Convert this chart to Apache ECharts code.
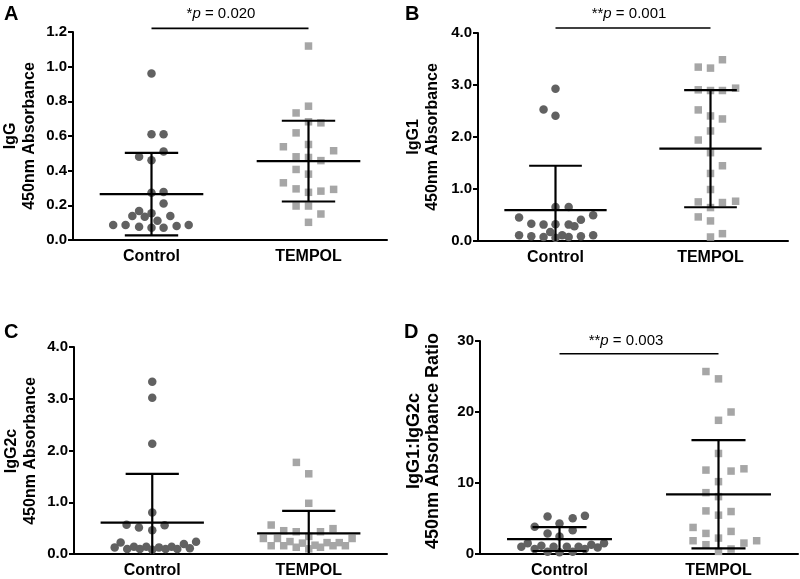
<!DOCTYPE html>
<html><head><meta charset="utf-8">
<script src="https://cdn.jsdelivr.net/npm/echarts@6/dist/echarts.min.js"></script>
<style>html,body{margin:0;padding:0;background:#fff}#c{width:800px;height:579px}</style>
</head><body><div id="c"></div>
<script>
const categories = ['Control', 'TEMPOL'];

// Panel A: IgG
const igGControl = [0.96,0.61,0.61,0.48,0.46,0.51,0.273,0.277,0.211,0.167,0.138,0.134,0.154,0.138,0.111,0.086,0.086,0.077,0.071,0.071,0.081,0.086];
const igGControlJitter = [0,0,0.077,-0.079,0,0.077,0,0.077,0.077,-0.079,-0.122,-0.043,0,0.12,0.038,-0.244,-0.165,-0.079,0,0.077,0.16,0.237];
const igGTempol = [1.119,0.772,0.733,0.682,0.676,0.618,0.538,0.551,0.515,0.48,0.476,0.458,0.407,0.38,0.33,0.295,0.275,0.282,0.292,0.196,0.196,0.15,0.102];
const igGTempolJitter = [0,0,-0.079,0,0.079,-0.079,-0.16,0,0.16,-0.079,0,0.079,-0.079,0,-0.16,-0.079,0,0.079,0.16,-0.079,0,0.079,0];
const igGMean = [0.265, 0.455];
const igGSD = [0.238, 0.233];

// Panel B: IgG1
const igG1Control = [2.93,2.53,2.41,0.656,0.656,0.45,0.334,0.315,0.32,0.315,0.283,0.41,0.495,0.109,0.09,0.077,0.174,0.064,0.109,0.077,0.09,0.109];
const igG1ControlJitter = [0,-0.077,0,0,0.085,-0.235,-0.156,-0.077,0,0.085,0.122,0.164,0.243,-0.235,-0.156,-0.077,-0.034,0,0.043,0.085,0.164,0.243];
const igG1Tempol = [3.486,3.344,3.325,2.907,2.894,2.894,2.939,2.521,2.405,2.347,2.116,1.942,1.698,1.447,1.299,0.99,0.752,0.74,0.765,0.643,0.463,0.386,0.141,0.077];
const igG1TempolJitter = [0.077,-0.079,0,-0.079,0,0.077,0.162,-0.079,0,0.077,0,-0.079,0,0.077,0,0,-0.079,0.077,0.162,0,-0.079,0,0.077,0];
const igG1Mean = [0.592, 1.775];
const igG1SD = [0.855, 1.126];

// Panel C: IgG2c
const igG2cControl = [3.328,3.02,2.131,0.8,0.563,0.512,0.461,0.557,0.128,0.224,0.096,0.141,0.096,0.141,0.083,0.128,0.096,0.141,0.096,0.192,0.109,0.237];
const igG2cControlJitter = [0,0,0,0,-0.164,-0.085,0,0.079,-0.24,-0.202,-0.16,-0.117,-0.079,-0.038,0,0.043,0.085,0.124,0.16,0.202,0.24,0.28];
const igG2cTempol = [1.77,1.55,0.98,0.56,0.45,0.43,0.43,0.49,0.34,0.30,0.30,0.16,0.16,0.24,0.13,0.21,0.10,0.17,0.13,0.22,0.16,0.22,0.16,0.30];
const igG2cTempolJitter = [-0.079,0,0,-0.24,-0.16,-0.08,0.075,0.155,0,-0.29,-0.2,-0.24,-0.16,-0.12,-0.08,-0.04,0,0.04,0.075,0.117,0.155,0.195,0.234,0.277];
const igG2cMean = [0.608, 0.397];
const igG2cSD = [0.941, 0.435];

// Panel D: IgG1:IgG2c ratio
const ratioControl = [5.28,4.3,5.05,5.37,3.83,2.9,2.48,3.36,1.03,1.5,0.7,1.17,0.33,1.03,0.23,1.03,0.33,1.03,0.7,1.31,0.93,1.5];
const ratioControlJitter = [-0.075,0,0.083,0.16,-0.156,-0.075,0,0.083,-0.24,-0.2,-0.156,-0.114,-0.075,-0.037,0,0.046,0.083,0.12,0.16,0.2,0.24,0.28];
const ratioTempol = [25.7,24.67,20.0,18.83,14.16,11.82,11.68,12.0,10.19,8.64,8.08,6.07,5.98,5.47,3.74,2.9,3.18,2.24,1.87,1.31,1.54,1.87,0.37,0.7];
const ratioTempolJitter = [-0.079,0,0.079,0,0,-0.079,0.079,0.16,0,-0.079,0,-0.079,0.079,0,-0.16,-0.079,0.079,0,-0.16,-0.079,0.16,0.24,0,0.079];
const ratioMean = [2.1, 8.41];
const ratioSD = [1.68, 7.62];

// y-axis tick settings and significance brackets
const yMax = [1.2, 4, 4, 30];
const yInterval = [0.2, 1, 1, 10];
const yDecimals = [1, 1, 1, 0];
const yNames = ['IgG\n450nm Absorbance', 'IgG1\n450nm Absorbance', 'IgG2c\n450nm Absorbance', 'IgG1:IgG2c\n450nm Absorbance Ratio'];
const bracketY = [1.221, 4.096, null, 28.2];
const pTexts = [['*', ' = 0.020'], ['**', ' = 0.001'], null, ['**', ' = 0.003']];
const panelLetters = ['A', 'B', 'C', 'D'];

const panels = [
  {ctrl: igGControl, ctrlJ: igGControlJitter, tem: igGTempol, temJ: igGTempolJitter, mean: igGMean, sd: igGSD},
  {ctrl: igG1Control, ctrlJ: igG1ControlJitter, tem: igG1Tempol, temJ: igG1TempolJitter, mean: igG1Mean, sd: igG1SD},
  {ctrl: igG2cControl, ctrlJ: igG2cControlJitter, tem: igG2cTempol, temJ: igG2cTempolJitter, mean: igG2cMean, sd: igG2cSD},
  {ctrl: ratioControl, ctrlJ: ratioControlJitter, tem: ratioTempol, temJ: ratioTempolJitter, mean: ratioMean, sd: ratioSD}
];

const grids = [
  {left: 73, top: 32, width: 314, height: 208},
  {left: 478, top: 33, width: 310, height: 208},
  {left: 74, top: 347, width: 313, height: 208},
  {left: 480, top: 341, width: 318, height: 214}
];
const nameFont = [16, 16, 16, 18];
const namePos = [[20, 136], [423, 137], [21, 451], [424, 441]];
const letterPos = [[4, 4], [405, 4], [4, 322], [404, 322]];
const pTextPos = [[221, 14], [629, 14], null, [626, 341]];

const FONT = '"Liberation Sans", Arial, sans-serif';
const CIRCLE_COLOR = '#616161';
const SQUARE_COLOR = '#a6a6a6';

function renderErr(params, api) {
  const x = api.value(0), m = api.value(1), s = api.value(2);
  const c = api.coord([x, m]);
  const hiV = m + s, loV = m - s;
  const pHi = api.coord([x, hiV]);
  const pLo = api.coord([x, Math.max(loV, 0)]);
  const half = api.size([0.33, 0])[0];
  const capHalf = api.size([0.17, 0])[0];
  const style = {stroke: '#000', lineWidth: 2.2};
  const children = [
    {type: 'line', shape: {x1: c[0] - half, y1: c[1], x2: c[0] + half, y2: c[1]}, style},
    {type: 'line', shape: {x1: c[0], y1: pLo[1], x2: c[0], y2: pHi[1]}, style},
    {type: 'line', shape: {x1: c[0] - capHalf, y1: pHi[1], x2: c[0] + capHalf, y2: pHi[1]}, style}
  ];
  if (loV > 0) {
    children.push({type: 'line', shape: {x1: c[0] - capHalf, y1: pLo[1], x2: c[0] + capHalf, y2: pLo[1]}, style});
  }
  return {type: 'group', children};
}

const option = {
  backgroundColor: '#fff',
  animation: false,
  grid: grids.map(g => Object.assign({containLabel: false}, g)),
  xAxis: [],
  yAxis: [],
  series: [],
  graphic: []
};

panels.forEach((p, i) => {
  // visible category axis
  option.xAxis.push({
    type: 'category', gridIndex: i, data: categories, boundaryGap: true,
    axisLine: {onZero: false, lineStyle: {color: '#000', width: 2}},
    axisTick: {alignWithLabel: true, length: 5, lineStyle: {color: '#000', width: 2}},
    axisLabel: {color: '#000', fontWeight: 'bold', fontSize: 16, fontFamily: FONT, margin: 9},
    splitLine: {show: false}
  });
  // hidden value axis for jittered points
  option.xAxis.push({type: 'value', gridIndex: i, min: -0.5, max: 1.5, show: false});
  option.yAxis.push({
    type: 'value', gridIndex: i, min: 0, max: yMax[i], interval: yInterval[i],
    axisLine: {show: true, onZero: false, lineStyle: {color: '#000', width: 2}},
    axisTick: {show: true, length: 5, lineStyle: {color: '#000', width: 2}},
    axisLabel: {color: '#000', fontWeight: 'bold', fontSize: 15, fontFamily: FONT, margin: 6,
      formatter: v => v.toFixed(yDecimals[i])},
    splitLine: {show: false}
  });
  // y-axis title (two centred lines, rotated)
  option.graphic.push({
    type: 'text', x: namePos[i][0], y: namePos[i][1], rotation: Math.PI / 2,
    style: {text: yNames[i], align: 'center', verticalAlign: 'middle', fontSize: nameFont[i],
      fontWeight: 'bold', fontFamily: FONT, fill: '#000', lineHeight: 19}
  });
  const vx = i * 2 + 1;
  option.series.push({
    type: 'scatter', xAxisIndex: vx, yAxisIndex: i, symbol: 'circle', symbolSize: 8.5,
    itemStyle: {color: CIRCLE_COLOR, opacity: 1},
    data: p.ctrl.map((v, k) => [0 + p.ctrlJ[k], v]), z: 2
  });
  option.series.push({
    type: 'scatter', xAxisIndex: vx, yAxisIndex: i, symbol: 'rect', symbolSize: 7.5,
    itemStyle: {color: SQUARE_COLOR, opacity: 1},
    data: p.tem.map((v, k) => [1 + p.temJ[k], v]), z: 2
  });
  option.series.push({
    type: 'custom', xAxisIndex: vx, yAxisIndex: i, renderItem: renderErr, z: 5, clip: false,
    data: p.mean.map((m, k) => [k, m, p.sd[k]])
  });
  if (bracketY[i] !== null) {
    option.series.push({
      type: 'line', xAxisIndex: vx, yAxisIndex: i, clip: false, symbol: 'none', z: 5,
      lineStyle: {color: '#000', width: 1.6},
      data: [[0, bracketY[i]], [1, bracketY[i]]]
    });
    option.graphic.push({
      type: 'text', x: pTextPos[i][0], y: pTextPos[i][1],
      style: {
        text: '{n|' + pTexts[i][0] + '}{i|p}{n|' + pTexts[i][1] + '}',
        align: 'center', verticalAlign: 'middle',
        rich: {
          n: {fontSize: 15, fontFamily: FONT, fill: '#000'},
          i: {fontSize: 15, fontFamily: FONT, fontStyle: 'italic', fill: '#000'}
        }
      }
    });
  }
  option.graphic.push({
    type: 'text', x: letterPos[i][0], y: letterPos[i][1],
    style: {text: panelLetters[i], fontSize: 20, fontWeight: 'bold', fontFamily: FONT, fill: '#000'}
  });
});

const chart = echarts.init(document.getElementById('c'), null, {renderer: 'canvas'});
chart.setOption(option);
</script>
</body></html>
